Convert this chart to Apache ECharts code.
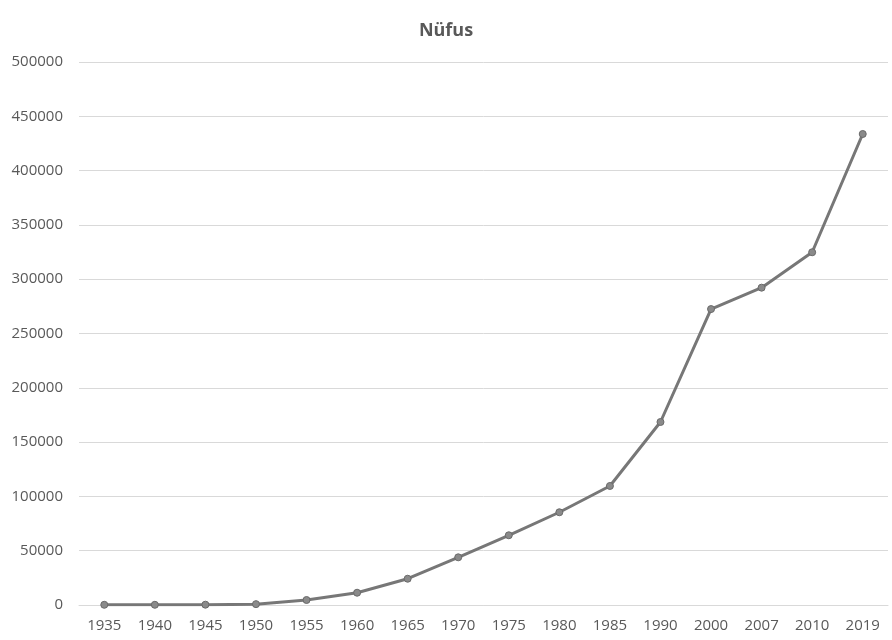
<!DOCTYPE html>
<html>
<head>
<meta charset="utf-8">
<script src="https://cdn.jsdelivr.net/npm/echarts@6/dist/echarts.min.js"></script>
<style>
  html, body { margin: 0; padding: 0; background: #ffffff; }
  #chart { width: 892px; height: 640px; }
</style>
</head>
<body>
<div id="chart"></div>
<script>
// Population by census year
const years = ['1935', '1940', '1945', '1950', '1955', '1960', '1965', '1970',
               '1975', '1980', '1985', '1990', '2000', '2007', '2010', '2019'];
const population = [200, 200, 300, 800, 4600, 11300, 24200, 43900,
                    64200, 85400, 109600, 168500, 272500, 292200, 324800, 433700];
const yTicks = { min: 0, max: 500000, interval: 50000 };

const textColor = '#595959';
const fontFamily = '"Open Sans", "Noto Sans", sans-serif';

const chart = echarts.init(document.getElementById('chart'), null, { renderer: 'canvas' });
chart.setOption({
  backgroundColor: '#ffffff',
  animation: false,
  title: {
    text: 'Nüfus',
    left: 'center',
    top: 17,
    textStyle: { color: textColor, fontSize: 18, fontWeight: 'bold', fontFamily: fontFamily }
  },
  grid: { left: 79, right: 4, top: 62, bottom: 35 },
  xAxis: {
    type: 'category',
    data: years,
    boundaryGap: true,
    axisLine: { show: true, lineStyle: { color: '#d9d9d9', width: 1 } },
    axisTick: { show: false },
    axisLabel: { color: textColor, fontSize: 15, fontFamily: fontFamily, margin: 13 },
    splitLine: { show: false }
  },
  yAxis: {
    type: 'value',
    min: yTicks.min,
    max: yTicks.max,
    interval: yTicks.interval,
    axisLine: { show: false },
    axisTick: { show: false },
    axisLabel: {
      color: textColor, fontSize: 15, fontFamily: fontFamily, margin: 16,
      formatter: (v) => String(v)
    },
    splitLine: { lineStyle: { color: '#d9d9d9', width: 1 } }
  },
  series: [{
    name: 'Nüfus',
    type: 'line',
    data: population,
    symbol: 'circle',
    symbolSize: 7,
    lineStyle: { color: '#777777', width: 3 },
    itemStyle: { color: '#8a8a8a', borderColor: '#6a6a6a', borderWidth: 1 }
  }]
});
</script>
</body>
</html>
